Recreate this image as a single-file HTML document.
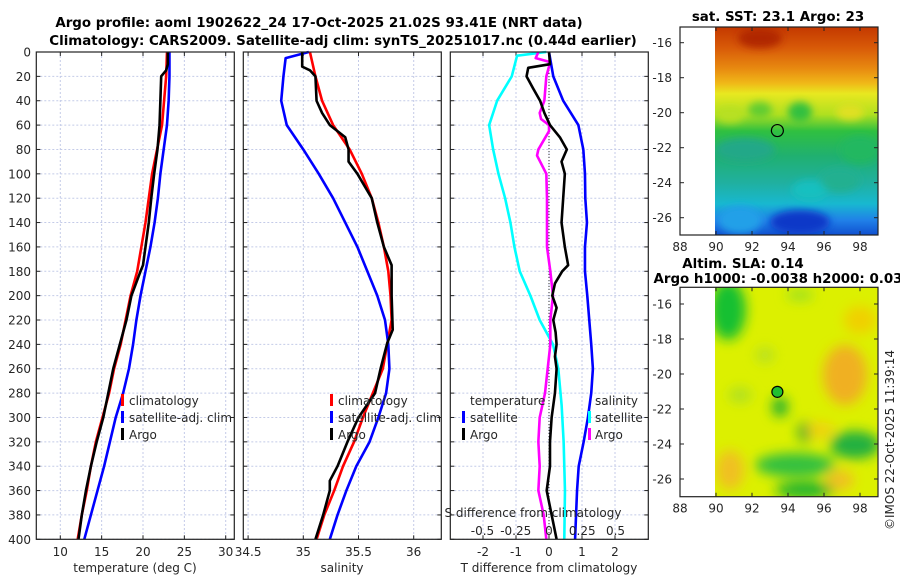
<!DOCTYPE html>
<html><head><meta charset="utf-8"><title>Argo profile</title>
<style>
html,body{margin:0;padding:0;background:#fff;}
svg{display:block;font-family:"DejaVu Sans","Liberation Sans",sans-serif;}
.tk{font-size:12px;fill:#262626;}
.ti{font-size:13.4px;font-weight:bold;fill:#000;}
.grid{stroke:#c4cbe8;stroke-width:1;stroke-dasharray:2,2;}
.ln{fill:none;stroke-width:2.6;stroke-linejoin:round;}
</style></head>
<body>
<svg id="chart" width="900" height="580" viewBox="0 0 900 580" xmlns="http://www.w3.org/2000/svg">
<defs>
<clipPath id="clipTop"><rect x="715" y="27" width="163" height="208"/></clipPath>
<clipPath id="clipBot"><rect x="715" y="287" width="163" height="210"/></clipPath>
<filter id="blur6" x="-50%" y="-50%" width="200%" height="200%"><feGaussianBlur stdDeviation="6"/></filter>
<filter id="blur4" x="-50%" y="-50%" width="200%" height="200%"><feGaussianBlur stdDeviation="4"/></filter>
<linearGradient id="sstGrad" x1="0" y1="0" x2="0" y2="1">
<stop offset="0" stop-color="#c43800"/><stop offset="0.1" stop-color="#d85a08"/><stop offset="0.2" stop-color="#e88a10"/>
<stop offset="0.27" stop-color="#f0b818"/><stop offset="0.32" stop-color="#e8e820"/><stop offset="0.42" stop-color="#b0e020"/>
<stop offset="0.5" stop-color="#30c040"/><stop offset="0.62" stop-color="#20b070"/><stop offset="0.75" stop-color="#20b0a0"/>
<stop offset="0.85" stop-color="#18b8d0"/><stop offset="0.93" stop-color="#2080e8"/><stop offset="1" stop-color="#1050d0"/>
</linearGradient>
</defs>
<text class="ti" x="319" y="27" text-anchor="middle">Argo profile: aoml 1902622_24 17-Oct-2025 21.02S 93.41E (NRT data)</text>
<text class="ti" x="343" y="45" text-anchor="middle">Climatology: CARS2009. Satellite-adj clim: synTS_20251017.nc (0.44d earlier)</text>
<g id="panels"></g>
<g id="maps"></g>
</svg>
<script>
// ---------- data ----------
const depth20 = [0,20,40,60,80,100,120,140,160,180,200,220,240,260,280,300,320,340,360,380,400];
const tempClim = [22.9,22.8,22.55,22.3,21.7,21.1,20.7,20.3,19.8,19.3,18.5,17.9,17.3,16.5,15.9,15.1,14.3,13.7,13.2,12.6,12.1];
const tempSat = [23.2,23.2,23.1,22.9,22.5,22.1,21.8,21.4,20.9,20.3,19.7,19.2,18.8,18.3,17.6,16.7,16.0,15.3,14.5,13.7,12.9];
const tempArgoDepth = [0,10,15,20,40,60,80,100,120,140,160,175,180,200,220,240,260,280,300,320,340,360,380,400];
const tempArgo = [23.0,23.0,22.8,22.2,22.1,22.0,21.75,21.35,21.0,20.7,20.3,20.0,19.7,18.6,18.0,17.2,16.4,15.8,15.2,14.4,13.7,13.1,12.6,12.2];
const salClim = [35.06,35.11,35.17,35.27,35.42,35.53,35.62,35.68,35.73,35.77,35.79,35.80,35.76,35.72,35.63,35.54,35.46,35.36,35.28,35.19,35.12];
const salSatDepth = [0,5,20,40,60,80,100,120,140,160,180,200,220,240,260,280,300,320,340,360,380,400];
const salSat = [35.05,34.84,34.82,34.80,34.85,35.0,35.14,35.27,35.38,35.49,35.58,35.67,35.74,35.77,35.78,35.75,35.68,35.60,35.48,35.39,35.31,35.24];
const salArgoDepth = [0,12,15,20,40,50,60,70,80,90,100,120,140,160,175,200,228,239,260,280,300,320,340,352,360,380,400];
const salArgo = [34.99,34.99,35.06,35.11,35.12,35.17,35.24,35.38,35.41,35.41,35.49,35.62,35.67,35.73,35.80,35.80,35.81,35.76,35.70,35.65,35.50,35.40,35.31,35.24,35.24,35.18,35.11];
const tDiffSat = [0,0.13,0.43,0.89,1.04,1.09,1.1,1.15,1.09,1.09,1.16,1.22,1.28,1.33,1.28,1.18,1.05,0.9,0.85,0.82,0.79];
const tDiffArgoDepth = [0,10,13,20,30,40,50,60,70,80,90,100,120,140,160,175,180,190,200,210,220,230,240,250,260,280,300,320,340,360,380,400];
const tDiffArgo = [0,0.03,-0.63,-0.68,-0.48,-0.27,-0.14,0.03,0.33,0.54,0.38,0.48,0.43,0.38,0.48,0.58,0.4,0.18,0.1,0.23,0.13,0.2,0.23,0.18,0.23,0.18,0.08,0.03,0.03,-0.07,0.08,0.23];
const sDiffSatDepth = [0,3,20,40,60,80,100,120,140,160,180,200,220,240,260,290,320,360,400];
const sDiffSat = [-0.02,-0.24,-0.28,-0.39,-0.45,-0.42,-0.38,-0.33,-0.29,-0.26,-0.22,-0.14,-0.07,0.03,0.07,0.095,0.11,0.12,0.115];
const sDiffArgoDepth = [0,5,8,12,20,40,50,55,60,65,80,85,100,120,160,180,200,220,240,260,280,300,320,340,360,370,380,400];
const sDiffArgo = [-0.08,-0.10,0.0,0.0,-0.02,-0.035,-0.07,-0.06,0.0,0.0,-0.08,-0.09,-0.02,-0.015,-0.015,0.01,0.03,0.01,0.01,-0.01,-0.03,-0.07,-0.08,-0.07,-0.08,-0.06,-0.04,-0.02];
const depthTicks = [0,20,40,60,80,100,120,140,160,180,200,220,240,260,280,300,320,340,360,380,400];
const tempTicks = [10,15,20,25,30];
const salTicks = [34.5,35,35.5,36];
const salTickLabels = ["34.5","35","35.5","36"];
const tDiffTicks = [-2,-1,0,1,2];
const sDiffTicks = [-0.5,-0.25,0,0.25,0.5];
const sDiffTickLabels = ["-0.5","-0.25","0","0.25","0.5"];
const lonTicks = [88,90,92,94,96,98];
const latTicks = [-16,-18,-20,-22,-24,-26];
const argoLon = 93.41, argoLat = -21.02;

const NS = "http://www.w3.org/2000/svg";
function mk(tag, attrs, parent){const e=document.createElementNS(NS,tag);for(const k in attrs)e.setAttribute(k,attrs[k]);parent.appendChild(e);return e;}
const panels = document.getElementById('panels');
const Y0=52, Y1=539.3;
const yScale = d => Y0 + (d/400)*(Y1-Y0);
function linScale(d0,d1,r0,r1){return v=>r0+(v-d0)/(d1-d0)*(r1-r0);}

function panel(x0,x1,xs,ticks,labels,name,showY){
  const g=mk('g',{},panels);
  
  
  ticks.forEach(t=>{const x=xs(t);mk('line',{x1:x,x2:x,y1:Y0,y2:Y1,class:'grid',stroke:'#dcc4c4'},g);});
  depthTicks.forEach(d=>{const y=yScale(d);mk('line',{x1:x0,x2:x1,y1:y,y2:y,class:'grid'},g);
    mk('line',{x1:x0,x2:x0+4,y1:y,y2:y,stroke:'#222'},g);mk('line',{x1:x1-4,x2:x1,y1:y,y2:y,stroke:'#222'},g);
    if(showY){const t=mk('text',{x:31,y:y+4.5,class:'tk','text-anchor':'end'},g);t.textContent=d;
      
      }
  });
  ticks.forEach((t,i)=>{const x=xs(t);mk('line',{x1:x,x2:x,y1:Y1,y2:Y1-4,stroke:'#222'},g);mk('line',{x1:x,x2:x,y1:Y0,y2:Y0+4,stroke:'#222'},g);
    if(labels){const tx=mk('text',{x:x,y:556,class:'tk','text-anchor':'middle'},g);tx.textContent=labels[i];
      
      }
  });
  return g;
}
function line(g,xs,depths,vals,color,name){
  const d=depths.map((dd,i)=>(i?'L':'M')+xs(vals[i]).toFixed(2)+','+yScale(dd).toFixed(2)).join('');
  const p=mk('path',{d:d,class:'ln',stroke:color},g);
  
  
}
function frame(g,x0,x1){mk('rect',{x:x0,y:Y0,width:x1-x0,height:Y1-Y0,fill:'none',stroke:'#222','stroke-width':1.2},g);}
function txt(g,x,y,s,name,anchor,cls){const t=mk('text',{x:x,y:y,class:cls||'tk','text-anchor':anchor||'start'},g);t.textContent=s;
  
  return t;}
function mark(g,x,y,color){mk('rect',{x:x,y:y-10,width:3,height:12,fill:color},g);}

// Panel 1: temperature
const xT = linScale(10,30,60.3,225.7);
const p1=panel(36.3,234.3,xT,tempTicks,tempTicks.map(String),'temperature-panel',true);
line(p1,xT,depth20,tempClim,'#ff0000','temp-climatology-line');
line(p1,xT,depth20,tempSat,'#0000ff','temp-satellite-line');
line(p1,xT,tempArgoDepth,tempArgo,'#000','temp-argo-line');
frame(p1,36.3,234.3);
txt(p1,135,572,'temperature (deg C)','x-axis-title-temperature','middle');
mark(p1,121,404,'#ff0000');txt(p1,129,405,'climatology','legend-entry-climatology');
mark(p1,121,421,'#0000ff');txt(p1,129,422,'satellite-adj. clim','legend-entry-satellite');
mark(p1,121,438,'#000');txt(p1,129,439,'Argo','legend-entry-argo');

// Panel 2: salinity
const xS = linScale(35,36,303.3,413.7);
const p2=panel(243.3,441.3,xS,salTicks,salTickLabels,'salinity-panel',false);
line(p2,xS,depth20,salClim,'#ff0000','sal-climatology-line');
line(p2,xS,salSatDepth,salSat,'#0000ff','sal-satellite-line');
line(p2,xS,salArgoDepth,salArgo,'#000','sal-argo-line');
frame(p2,243.3,441.3);
txt(p2,342,572,'salinity','x-axis-title-salinity','middle');
mark(p2,330,404,'#ff0000');txt(p2,338,405,'climatology','legend-entry-climatology');
mark(p2,330,421,'#0000ff');txt(p2,338,422,'satellite-adj. clim','legend-entry-satellite');
mark(p2,330,438,'#000');txt(p2,338,439,'Argo','legend-entry-argo');

// Panel 3: differences
const xD = linScale(0,1,549,582);
const xSD = linScale(0,1,549,682);
const p3=panel(450.3,648.3,xD,tDiffTicks,tDiffTicks.map(String),'difference-panel',false);
mk('line',{x1:549,x2:549,y1:Y0,y2:Y1,stroke:'#333','stroke-dasharray':'1,2'},p3);
line(p3,xSD,sDiffSatDepth,sDiffSat,'#00ffff','sdiff-satellite-line');
line(p3,xSD,sDiffArgoDepth,sDiffArgo,'#ff00ff','sdiff-argo-line');
line(p3,xD,depth20,tDiffSat,'#0000ff','tdiff-satellite-line');
line(p3,xD,tDiffArgoDepth,tDiffArgo,'#000','tdiff-argo-line');
frame(p3,450.3,648.3);
txt(p3,549,572,'T difference from climatology','x-axis-title-t-difference','middle');
txt(p3,533,517,'S difference from climatology','s-axis-title','middle');
sDiffTicks.forEach((t,i)=>{txt(p3,xSD(t),535,sDiffTickLabels[i],'s-tick-label','middle');});
txt(p3,470,405,'temperature','legend-title-temperature');
mark(p3,462,421,'#0000ff');txt(p3,470,422,'satellite','legend-entry-t-satellite');
mark(p3,462,438,'#000');txt(p3,470,439,'Argo','legend-entry-t-argo');
txt(p3,595,405,'salinity','legend-title-salinity');
mark(p3,588,421,'#00ffff');txt(p3,595,422,'satellite','legend-entry-s-satellite');
mark(p3,588,438,'#ff00ff');txt(p3,595,439,'Argo','legend-entry-s-argo');

// ---------- maps ----------
const maps=document.getElementById('maps');
function mapAxes(top,bot,lat16,name){
  const g=mk('g',{},maps);
  
  
  const lx=v=>680+(v-88)*18, ly=v=>lat16+(-16-v)*17.5;
  lonTicks.forEach(t=>{const x=lx(t);mk('line',{x1:x,x2:x,y1:bot,y2:bot-4,stroke:'#222'},g);mk('line',{x1:x,x2:x,y1:top,y2:top+4,stroke:'#222'},g);
    txt(g,x,bot+16,String(t),'lon-tick-label','middle');});
  latTicks.forEach(t=>{const y=ly(t);mk('line',{x1:680,x2:684,y1:y,y2:y,stroke:'#222'},g);mk('line',{x1:874,x2:878,y1:y,y2:y,stroke:'#222'},g);
    txt(g,672,y+4.5,String(t),'lat-tick-label','end');});
  mk('rect',{x:680,y:top,width:198,height:bot-top,fill:'none',stroke:'#222','stroke-width':1.2},g);
  return {g,lx,ly};
}
// top SST map
const mt=mk('g',{'clip-path':'url(#clipTop)'},maps);


mk('rect',{x:715,y:27,width:163,height:208,fill:'url(#sstGrad)'},mt);
const bt=mk('g',{filter:'url(#blur4)'},mt);
[[730,115,14,8,'#b8e020'],[760,110,12,8,'#60cc30'],[800,112,12,10,'#30c040'],[850,112,14,8,'#e0e020'],[860,150,20,14,'#20b860'],
 [745,150,30,12,'#20a888'],[810,190,18,10,'#18c0c0'],[840,180,20,12,'#20b090'],[800,222,30,12,'#0838c8'],[740,220,22,14,'#20a0e8'],[760,38,22,10,'#b02800']]
 .forEach(b=>mk('ellipse',{cx:b[0],cy:b[1],rx:b[2],ry:b[3],fill:b[4]},bt));
const A1=mapAxes(27,235,42.7,'sst-map');
mk('circle',{cx:A1.lx(argoLon),cy:A1.ly(argoLat),r:6,fill:'none',stroke:'#000','stroke-width':1.2},A1.g);
txt(maps,778,21,'sat. SST: 23.1 Argo: 23','sst-map-title','middle','ti');
// bottom SLA map
const mb=mk('g',{'clip-path':'url(#clipBot)'},maps);


mk('rect',{x:715,y:287,width:163,height:210,fill:'#dcf000'},mb);
const bb=mk('g',{filter:'url(#blur6)'},mb);
[[728,310,18,30,'#18c030'],[800,295,14,6,'#9ee020'],[860,320,16,14,'#f0d000'],[845,375,22,30,'#f0b020'],[855,445,25,14,'#20b040'],
 [795,465,40,12,'#30c040'],[805,490,30,8,'#18b030'],[780,407,8,10,'#20b030'],[805,432,7,10,'#18a830'],[740,395,12,8,'#b0e020'],
 [730,470,14,20,'#f0c020'],[840,480,14,10,'#f0c020'],[820,430,14,8,'#f0d010'],[765,355,10,8,'#b8e020']]
 .forEach(b=>mk('ellipse',{cx:b[0],cy:b[1],rx:b[2],ry:b[3],fill:b[4]},bb));
const A2=mapAxes(287.3,496.7,304,'sla-map');
mk('circle',{cx:A2.lx(argoLon),cy:A2.ly(argoLat),r:5.5,fill:'#20c030',stroke:'#000','stroke-width':1.2},A2.g);
txt(maps,743,268,'Altim. SLA: 0.14','sla-map-title','middle','ti');
txt(maps,778,283,'Argo h1000: -0.0038 h2000: 0.03','sla-map-subtitle','middle','ti');
const cr=txt(maps,0,0,'©IMOS 22-Oct-2025 11:39:14','timestamp-label','middle');
cr.setAttribute('transform','translate(894,440) rotate(-90)');
</script>
</body></html>
